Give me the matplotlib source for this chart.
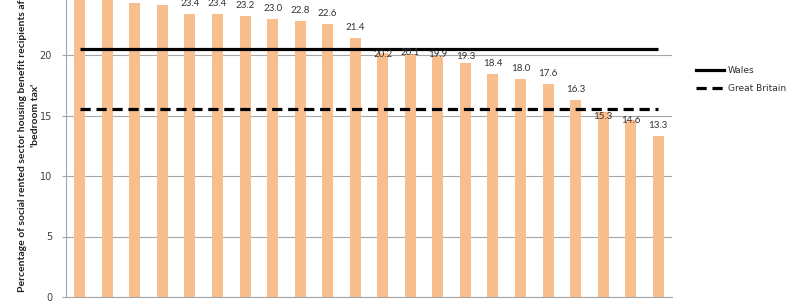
import matplotlib
matplotlib.use("Agg")
import matplotlib.pyplot as plt
from matplotlib.lines import Line2D

# Data (22 local authorities, sorted descending)
values = [26.0, 25.2, 24.3, 24.1, 23.4, 23.4, 23.2, 23.0, 22.8, 22.6, 21.4,
          20.2, 20.1, 19.9, 19.3, 18.4, 18.0, 17.6, 16.3, 15.3, 14.6, 13.3]
wales_avg = 20.5
gb_avg = 15.5
yticks = [0, 5, 10, 15, 20]
series_names = ["Wales", "Great Britain"]
ylabel = "Percentage of social rented sector housing benefit recipients affected by the\n'bedroom tax'"

# label nudges (pixels above bar top; labels near the average lines were moved)
label_dy = [10.5] * len(values)
label_dy[11] = -2.4
label_dy[12] = 1.3
label_dy[13] = 2.0
label_dy[14] = 6.5
label_dy[19] = -4.5
label_dy[20] = 0.0

W, H = 789, 305
fig = plt.figure(figsize=(W / 100, H / 100), dpi=100)
ax_left_px, ax_right_px = 66, 672
y0_px, unit_px = 297, 12.1
ymax = 30
ax_bottom = (H - y0_px) / H
ax_height = ymax * unit_px / H
ax = fig.add_axes([ax_left_px / W, ax_bottom, (ax_right_px - ax_left_px) / W, ax_height])

x = list(range(len(values)))
ax.bar(x, values, width=0.4, color="#F9BE8E", zorder=2)

visible_top = y0_px / unit_px
for xi, v, dy in zip(x, values, label_dy):
    if v + dy / unit_px > visible_top + 0.1:
        continue  # label lies outside the cropped picture
    ax.annotate(f"{v:.1f}", (xi, v), xytext=(0, dy * 0.72), textcoords="offset points",
                ha="center", va="center", fontsize=7, color="#333333",
                family="Lato", zorder=4)

ax.plot([x[0], x[-1]], [wales_avg, wales_avg], color="black", lw=2.3,
        solid_capstyle="butt", zorder=3)
ax.plot([x[0], x[-1]], [gb_avg, gb_avg], color="black", lw=2.3,
        dashes=(3.2, 1.8), zorder=3)

ax.set_xlim(-0.5, len(values) - 0.5)
ax.set_ylim(0, ymax)
ax.set_yticks(yticks)
ax.yaxis.grid(True, color="#A6A6A6", lw=0.8, zorder=0)
ax.set_axisbelow(True)
ax.set_xticks([])
for s in ["top", "right"]:
    ax.spines[s].set_visible(False)
ax.spines["left"].set_color("#A6A6A6")
ax.spines["bottom"].set_color("#A6A6A6")
ax.tick_params(axis="y", length=3, color="#A6A6A6", labelsize=7,
               labelcolor="#404040", pad=7)
for lab in ax.get_yticklabels():
    lab.set_family("DejaVu Sans")

yc = ax_bottom + ax_height / 2
fig.text(29 / W, yc, ylabel, rotation=90, ha="center", va="center",
         multialignment="center", fontsize=7.5, fontweight="bold",
         family="Lato", color="#202020", linespacing=1.45)

handles = [Line2D([], [], color="black", lw=2.3),
           Line2D([], [], color="black", lw=2.3, dashes=(3.2, 1.8))]
fig.legend(handles, series_names, loc="upper left",
           bbox_to_anchor=(696 / W, 1 - 66 / H), frameon=False,
           borderpad=0, borderaxespad=0, handlelength=3.1, handletextpad=0.45,
           labelspacing=1.0, prop={"family": "DejaVu Sans", "size": 6.5},
           labelcolor="#303030")

fig.savefig("out.png", dpi=100)
